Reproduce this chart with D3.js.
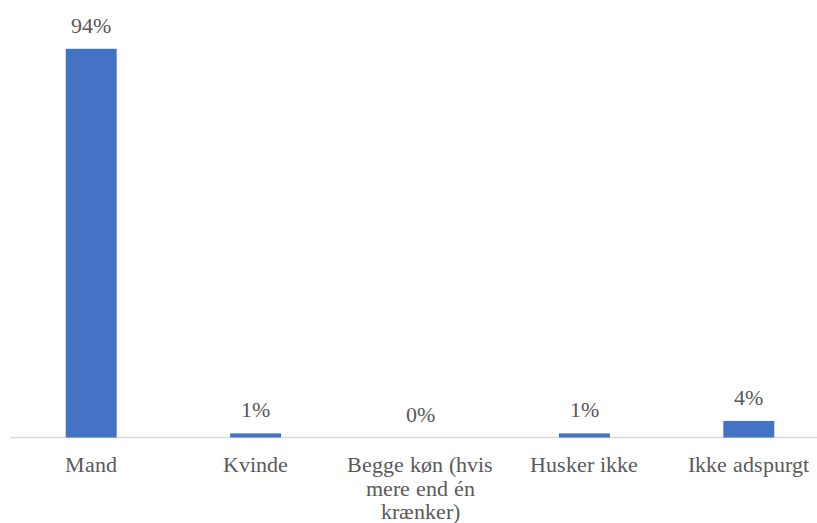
<!DOCTYPE html>
<html>
<head>
<meta charset="utf-8">
<script src="https://cdn.jsdelivr.net/npm/d3@7"></script>
<style>
  @font-face {
    font-family: "ChartSerif";
    src: local("Liberation Serif"), local("LiberationSerif"), local("LiberationSerif-Regular"), local("Tinos"), local("Times New Roman");
  }
  body { margin: 0; }
  svg { display: block; }
  .lbl { font-family: "ChartSerif", "Liberation Serif", "Times New Roman", Tinos, serif; }
</style>
</head>
<body>
<svg id="chart" width="817" height="523"></svg>
<script>
// Gender of the offender (share of responses, %)
const categories = ["Mand", "Kvinde", "Begge køn (hvis mere end én krænker)", "Husker ikke", "Ikke adspurgt"];
// Axis label lines, broken where the label wraps under its bar
const categoryLines = [["Mand"], ["Kvinde"], ["Begge køn (hvis", "mere end én", "krænker)"], ["Husker ikke"], ["Ikke adspurgt"]];
const values = [94, 1, 0, 1, 4];
const valueLabels = ["94%", "1%", "0%", "1%", "4%"];

const TEXT_COLOR = "#595959";
const FONT_SIZE = 22;

const svg = d3.select("#chart");
const margin = { left: 9, right: -14, top: 24, baseline: 437.5 };
const width = 817;

const x = d3.scaleBand()
  .domain(categories)
  .range([margin.left, width - margin.right])
  .paddingInner(0.69)
  .paddingOuter(0.345);

const y = d3.scaleLinear()
  .domain([0, 100])
  .range([margin.baseline, margin.top]);

// Baseline axis
svg.append("line")
  .attr("x1", 10).attr("x2", width)
  .attr("y1", y(0)).attr("y2", y(0))
  .attr("stroke", "#d9d9d9")
  .attr("stroke-width", 1.3);

// Bars
svg.selectAll("rect.bar")
  .data(categories)
  .join("rect")
  .attr("class", "bar")
  .attr("x", d => x(d))
  .attr("width", x.bandwidth())
  .attr("y", (d, i) => y(values[i]))
  .attr("height", (d, i) => y(0) - y(values[i]))
  .attr("fill", "#4472C4");

// Value labels
svg.selectAll("text.value")
  .data(categories)
  .join("text")
  .attr("class", "value lbl")
  .attr("x", d => x(d) + x.bandwidth() / 2)
  .attr("y", (d, i) => y(values[i]) - 16)
  .attr("text-anchor", "middle")
  .attr("font-size", FONT_SIZE)
  .attr("fill", TEXT_COLOR)
  .text((d, i) => valueLabels[i]);

// Category labels
const lineH = 23.5;
svg.selectAll("text.cat")
  .data(categories)
  .join("text")
  .attr("class", "cat lbl")
  .attr("x", d => x(d) + x.bandwidth() / 2)
  .attr("y", 472)
  .attr("text-anchor", "middle")
  .attr("font-size", FONT_SIZE)
  .attr("fill", TEXT_COLOR)
  .each(function(d, i) {
    const cx = x(d) + x.bandwidth() / 2;
    d3.select(this).selectAll("tspan")
      .data(categoryLines[i])
      .join("tspan")
      .attr("x", cx)
      .attr("dy", (s, j) => j === 0 ? 0 : lineH)
      .text(s => s);
  });
</script>
</body>
</html>
